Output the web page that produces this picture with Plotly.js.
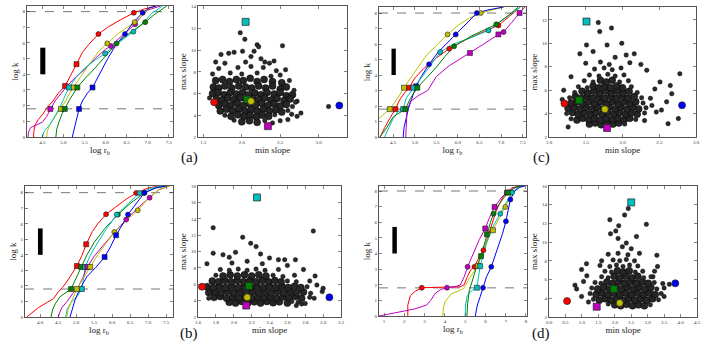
<!DOCTYPE html>
<html>
<head>
<meta charset="utf-8">
<script src="https://cdn.plot.ly/plotly-3.0.1.min.js"></script>
<style>html,body{margin:0;padding:0;background:#fff}#fig{width:715px;height:349px}</style>
</head>
<body>
<div id="fig"></div>
<script>
// cumulative curves: [log r_b, log k] per colour
const curvesA = {
    red: [[4.29,0],[4.3,0.4],[4.33,0.8],[4.4,1.1],[4.52,1.5],[4.62,1.9],[4.75,2.3],[4.88,2.8],[5.04,3.26],[5.15,3.8],[5.31,4.65],[5.45,5.4],[5.6,5.9],[5.83,6.57],[6.05,7.0],[6.3,7.4],[6.67,7.93],[6.9,8.15],[7.2,8.36]],
    magenta: [[4.16,0],[4.17,0.3],[4.22,0.6],[4.35,0.75],[4.5,0.95],[4.6,1.3],[4.69,1.79],[4.8,2.3],[4.95,2.8],[5.1,3.3],[5.3,3.85],[5.5,4.3],[5.75,5.0],[6.0,5.6],[6.13,5.8],[6.4,6.5],[6.7,7.2],[6.85,7.7],[7.0,8.1],[7.3,8.36]],
    yellow: [[4.6,0],[4.62,0.4],[4.68,0.8],[4.78,1.2],[4.88,1.6],[4.94,1.79],[5.05,2.3],[5.15,2.8],[5.23,3.16],[5.4,3.8],[5.6,4.6],[5.85,5.5],[6.04,5.97],[6.3,6.6],[6.69,7.33],[6.9,7.8],[7.05,8.2],[7.2,8.36]],
    cyan: [[4.5,0],[4.55,0.4],[4.68,0.8],[4.8,1.3],[4.9,1.8],[5.0,2.4],[5.13,3.16],[5.3,3.8],[5.5,4.4],[5.75,4.9],[5.99,5.33],[6.2,5.8],[6.4,6.2],[6.66,6.72],[6.9,7.3],[7.1,7.9],[7.35,8.36]],
    green: [[4.82,0],[4.84,0.5],[4.9,1.0],[4.97,1.5],[5.03,1.79],[5.15,2.4],[5.33,3.16],[5.5,3.7],[5.75,4.4],[6.0,5.2],[6.26,5.97],[6.5,6.5],[6.94,7.33],[7.15,7.8],[7.35,8.2],[7.45,8.36]],
    blue: [[5.21,0],[5.25,0.5],[5.31,1.07],[5.37,1.79],[5.45,2.3],[5.57,2.8],[5.69,3.16],[5.85,4.0],[6.05,5.0],[6.25,5.9],[6.46,6.57],[6.65,7.3],[6.88,7.93],[7.05,8.25],[7.2,8.36]]
};
const marksA = {
    red: [[5.04,3.26,'s'],[5.31,4.65,'s'],[5.83,6.57,'o'],[6.67,7.93,'o']],
    magenta: [[4.69,1.79,'s'],[6.13,5.8,'o'],[6.7,7.2,'o']],
    yellow: [[4.94,1.79,'s'],[5.23,3.16,'s'],[6.04,5.97,'o'],[6.69,7.33,'o']],
    cyan: [[5.13,3.16,'s'],[5.99,5.33,'o'],[6.66,6.72,'o']],
    green: [[5.03,1.79,'s'],[5.33,3.16,'s'],[6.26,5.97,'o'],[6.94,7.33,'o']],
    blue: [[5.37,1.79,'s'],[5.69,3.16,'s'],[6.46,6.57,'o'],[6.88,7.93,'o']]
};

const curvesB = {
    red: [[3.63,0],[3.8,0.3],[3.95,0.6],[4.2,0.95],[4.37,1.18],[4.5,1.6],[4.62,1.9],[4.75,2.3],[4.9,2.8],[5.02,3.28],[5.15,3.9],[5.28,4.68],[5.45,5.5],[5.6,6.0],[5.83,6.61],[6.1,7.1],[6.4,7.6],[6.67,7.98],[7.0,8.3],[7.3,8.43]],
    green: [[4.3,0],[4.35,0.5],[4.42,0.85],[4.55,1.3],[4.86,1.8],[5.0,2.5],[5.14,3.22],[5.3,4.0],[5.5,4.8],[5.8,5.7],[6.16,6.59],[6.5,7.3],[6.89,7.98],[7.2,8.3],[7.5,8.43]],
    cyan: [[4.71,0],[4.75,0.5],[4.85,0.9],[5.05,1.4],[5.16,1.8],[5.2,2.5],[5.25,3.22],[5.4,4.0],[5.6,4.8],[5.85,5.7],[6.13,6.59],[6.45,7.3],[6.76,7.98],[7.1,8.3],[7.4,8.43]],
    magenta: [[4.5,0],[4.6,0.6],[4.75,1.0],[4.9,1.5],[5.05,1.9],[5.2,2.6],[5.31,3.22],[5.5,3.9],[5.75,4.6],[6.0,5.3],[6.2,5.8],[6.39,6.27],[6.7,7.0],[7.04,7.68],[7.3,8.2],[7.6,8.43]],
    yellow: [[4.74,0],[4.78,0.5],[4.85,0.9],[4.95,1.4],[5.02,1.8],[5.2,2.5],[5.39,3.22],[5.6,4.0],[5.85,4.8],[6.06,5.47],[6.4,6.2],[6.71,6.87],[7.0,7.6],[7.3,8.2],[7.6,8.43]],
    blue: [[4.83,0],[4.9,0.6],[4.97,1.1],[5.1,1.8],[5.3,2.6],[5.55,3.2],[5.79,3.86],[5.95,4.5],[6.11,5.26],[6.3,6.0],[6.44,6.59],[6.7,7.4],[6.9,8.0],[7.2,8.3],[7.5,8.43]]
};
const marksB = {
    red: [[5.02,3.28,'s'],[5.28,4.68,'s'],[5.83,6.61,'o'],[6.67,7.98,'o']],
    green: [[4.86,1.8,'s'],[5.14,3.22,'s'],[6.16,6.59,'o'],[6.89,7.98,'o']],
    cyan: [[5.16,1.8,'s'],[5.25,3.22,'s'],[6.13,6.59,'o'],[6.76,7.98,'o']],
    magenta: [[5.31,3.22,'s'],[6.39,6.27,'o'],[7.04,7.68,'o']],
    yellow: [[5.02,1.8,'s'],[5.39,3.22,'s'],[6.06,5.47,'o'],[6.71,6.87,'o']],
    blue: [[5.79,3.86,'s'],[6.11,5.26,'s'],[6.44,6.59,'o'],[6.9,8.0,'o']]
};

const curvesC = {
    yellow: [[4.17,1.2],[4.25,1.4],[4.35,1.6],[4.42,1.8],[4.55,2.3],[4.65,2.75],[4.75,3.18],[4.9,3.8],[5.1,4.6],[5.28,5.3],[5.5,5.9],[5.76,6.62],[6.0,7.2],[6.25,7.65],[6.53,8.0],[6.8,8.2],[7.06,8.39]],
    red: [[4.2,0],[4.3,0.6],[4.42,1.2],[4.55,1.8],[4.65,2.4],[4.75,2.8],[4.87,3.18],[5.0,3.8],[5.2,4.4],[5.5,5.1],[5.8,5.7],[6.2,6.3],[6.6,6.8],[6.94,7.2],[7.2,7.8],[7.45,8.39]],
    blue: [[4.73,0],[4.75,0.6],[4.8,1.2],[4.85,1.8],[4.92,2.4],[5.03,3.27],[5.15,3.9],[5.33,4.69],[5.55,5.5],[5.95,6.62],[6.2,7.3],[6.44,8.0],[6.7,8.2],[7.06,8.39]],
    cyan: [[4.3,0],[4.4,0.6],[4.5,1.2],[4.6,1.6],[4.73,1.8],[4.8,2.5],[4.97,3.18],[5.2,4.0],[5.4,4.8],[5.59,5.48],[5.9,6.0],[6.3,6.4],[6.71,6.88],[7.0,7.5],[7.25,8.0],[7.45,8.39]],
    green: [[4.19,0],[4.35,0.6],[4.5,1.3],[4.78,1.8],[4.9,2.5],[5.06,3.18],[5.3,3.9],[5.5,4.5],[5.7,5.2],[5.91,5.85],[6.3,6.5],[6.89,7.27],[7.15,7.8],[7.4,8.39]],
    magenta: [[4.79,0],[4.8,0.8],[4.82,1.7],[4.9,2.3],[5.1,2.7],[5.3,3.0],[5.5,3.9],[5.8,4.6],[6.28,5.42],[6.6,6.0],[6.94,6.62],[7.06,6.77],[7.25,7.4],[7.43,8.0],[7.55,8.39]]
};
const marksC = {
    yellow: [[4.42,1.8,'s'],[4.75,3.18,'s'],[5.76,6.62,'o'],[6.53,8.0,'o']],
    red: [[4.55,1.8,'s'],[4.87,3.18,'s'],[5.8,5.7,'o'],[6.94,7.2,'o']],
    blue: [[5.03,3.27,'s'],[5.33,4.69,'o'],[5.95,6.62,'o'],[6.44,8.0,'o']],
    cyan: [[4.73,1.8,'s'],[4.97,3.18,'s'],[5.59,5.48,'o'],[6.71,6.88,'o']],
    green: [[4.78,1.8,'s'],[5.06,3.18,'s'],[5.91,5.85,'o'],[6.89,7.27,'o']],
    magenta: [[6.28,5.42,'s'],[6.94,6.62,'s'],[7.06,6.77,'o'],[7.43,8.0,'s']]
};

const curvesD = {
    red: [[2.17,0],[2.17,0.7],[2.3,1.3],[2.55,1.6],[2.86,1.81],[3.5,1.83],[4.2,1.85],[4.76,1.87],[4.95,2.0],[5.1,2.5],[5.3,3.0],[5.46,3.15],[5.7,3.8],[5.9,4.21],[6.1,5.0],[6.3,5.8],[6.55,6.8],[6.9,7.7],[7.3,8.2],[7.7,8.32]],
    magenta: [[0.75,0],[1.5,0.2],[2.5,0.45],[3.1,0.7],[3.3,1.0],[3.52,1.45],[3.8,1.7],[4.1,1.81],[4.5,1.88],[4.76,1.98],[4.95,2.5],[5.12,3.15],[5.4,4.0],[5.7,4.9],[5.99,5.6],[6.2,6.3],[6.45,6.98],[6.8,7.6],[7.06,7.9],[7.4,8.2],[7.8,8.32]],
    yellow: [[3.9,0],[3.92,0.5],[4.0,0.9],[4.3,1.4],[4.92,1.74],[5.2,2.4],[5.63,3.21],[5.9,4.3],[6.1,4.9],[6.37,5.49],[6.7,6.3],[6.98,6.98],[7.3,7.8],[7.6,8.2],[7.9,8.32]],
    cyan: [[5.0,0],[5.02,0.7],[5.1,1.3],[5.3,1.6],[5.58,1.81],[5.68,2.6],[5.74,3.19],[5.95,4.2],[6.15,5.0],[6.4,5.8],[6.73,6.55],[7.0,7.2],[7.31,7.9],[7.6,8.25],[7.9,8.32]],
    green: [[5.09,0],[5.12,0.8],[5.2,1.6],[5.35,2.3],[5.55,3.1],[5.78,3.83],[5.95,4.6],[6.07,5.23],[6.25,6.0],[6.4,6.55],[6.7,7.2],[7.1,7.9],[7.5,8.25],[7.8,8.32]],
    blue: [[5.5,0],[5.6,0.7],[5.74,1.23],[5.88,1.81],[6.05,2.5],[6.29,3.15],[6.6,4.3],[6.85,5.3],[7.01,6.06],[7.15,6.9],[7.23,7.45],[7.45,8.0],[7.7,8.25],[7.95,8.32]]
};
const marksD = {
    red: [[2.86,1.81,'o'],[5.46,3.15,'o'],[5.9,4.21,'o']],
    magenta: [[4.1,1.81,'o'],[5.12,3.15,'o'],[5.99,5.6,'s'],[6.45,6.98,'s'],[7.06,7.9,'s']],
    yellow: [[5.63,3.21,'s'],[6.37,5.49,'s'],[6.98,6.98,'o']],
    cyan: [[5.58,1.81,'s'],[5.74,3.19,'s'],[6.73,6.55,'o'],[7.31,7.9,'o']],
    green: [[5.78,3.83,'s'],[6.07,5.23,'s'],[6.4,6.55,'o'],[7.1,7.9,'s']],
    blue: [[5.88,1.81,'o'],[6.29,3.15,'o'],[7.01,6.06,'o'],[7.23,7.45,'o']]
};

// scatter clouds: [min slope, max slope]; dense core and the stray runs around it
const coreA = [
    [1.66,7.2],[1.75,7.3],[1.84,7.1],[1.93,7.3],[2.02,7.2],[2.11,7.4],[2.2,7.1],[2.29,7.3],[2.4,7.1],[2.52,7.0],
    [1.63,6.6],[1.7,6.5],[1.78,6.7],[1.87,6.5],[1.96,6.7],[2.05,6.6],[2.13,6.5],[2.22,6.7],[2.31,6.5],[2.4,6.7],[2.5,6.4],[2.58,6.6],
    [1.62,6.0],[1.69,6.1],[1.77,5.9],[1.85,6.1],[1.93,5.95],[2.01,6.1],[2.09,5.9],[2.17,6.05],[2.25,5.9],[2.33,6.1],[2.42,5.95],[2.5,6.1],[2.58,5.8],[2.66,5.9],
    [1.67,5.5],[1.74,5.4],[1.82,5.6],[1.9,5.45],[1.98,5.6],[2.06,5.4],[2.14,5.55],[2.22,5.45],[2.3,5.6],[2.38,5.4],[2.46,5.55],[2.55,5.35],[2.63,5.5],
    [1.7,4.9],[1.78,5.05],[1.86,4.95],[1.94,5.1],[2.02,4.9],[2.1,5.05],[2.18,4.95],[2.26,5.1],[2.34,4.9],[2.42,5.05],[2.5,4.85],[2.58,5.0],
    [1.72,4.4],[1.8,4.55],[1.88,4.45],[1.96,4.6],[2.04,4.4],[2.12,4.5],[2.2,4.4],[2.28,4.55],[2.36,4.4],[2.44,4.5],[2.52,4.3],
    [1.86,3.9],[1.95,4.05],[2.03,3.9],[2.11,4.0],[2.19,3.85],[2.27,4.0],[2.35,3.9],
    [2.0,3.4],[2.1,3.5],[2.2,3.35]
];
const strayA = [
    [1.98,11.6],[2.04,11.0],[2.2,10.5],[2.22,10.3],[2.53,10.4],[1.73,9.6],[1.83,9.7],[1.9,9.8],[2.01,9.9],[2.12,9.4],[2.16,9.9],[2.25,9.2],
    [1.66,8.9],[1.78,8.8],[2.05,8.9],[2.3,8.9],[2.36,8.8],[2.42,9.0],[2.57,8.2],[1.7,8.3],[1.95,8.4],[2.12,8.5],[2.28,8.4],[2.45,8.1],
    [1.62,7.8],[1.85,7.9],[2.0,7.8],[2.2,7.9],[2.38,7.6],[2.5,7.7],[2.62,7.2],[2.68,6.3],[2.72,5.3],[3.13,4.8],[2.77,4.2],[2.72,3.9],
    [2.6,3.6],[2.5,3.5],[2.65,4.1],[2.7,5.2],[2.66,4.8],[2.6,4.45],[1.78,4.0],[2.43,4.05],[1.9,3.55],[2.3,3.5],[2.4,3.3],[1.58,5.6]
];
const coreB = [
    [1.95,3.8],[2.02,3.7],[2.09,3.9],[2.16,3.75],[2.23,3.85],[2.3,3.7],[2.37,3.9],[2.44,3.75],[2.51,3.85],[2.6,3.7],
    [1.78,4.4],[1.85,4.5],[1.92,4.3],[1.99,4.45],[2.06,4.35],[2.13,4.5],[2.2,4.3],[2.27,4.45],[2.34,4.35],[2.41,4.5],[2.48,4.3],[2.55,4.45],[2.62,4.35],[2.69,4.5],[2.76,4.3],
    [1.72,5.0],[1.79,5.1],[1.86,4.95],[1.93,5.1],[2.0,4.95],[2.07,5.1],[2.14,4.95],[2.21,5.1],[2.28,4.95],[2.35,5.1],[2.42,4.95],[2.49,5.1],[2.56,4.95],[2.63,5.1],[2.7,4.95],[2.78,5.05],
    [1.7,5.7],[1.77,5.6],[1.84,5.75],[1.91,5.6],[1.98,5.75],[2.05,5.6],[2.12,5.75],[2.19,5.6],[2.26,5.75],[2.33,5.6],[2.4,5.75],[2.47,5.6],[2.54,5.75],[2.61,5.6],[2.68,5.75],[2.75,5.6],
    [1.76,6.4],[1.83,6.3],[1.9,6.45],[1.97,6.3],[2.04,6.45],[2.11,6.3],[2.18,6.45],[2.25,6.3],[2.32,6.45],[2.39,6.3],[2.46,6.45],[2.53,6.3],
    [1.88,7.0],[1.96,7.15],[2.04,7.0],[2.12,7.15],[2.2,7.0],[2.28,7.15],[2.36,7.0]
];
const strayB = [
    [1.77,9.8],[1.88,9.6],[1.95,9.3],[2.02,9.9],[2.1,11.75],[2.19,11.0],[2.25,10.6],[2.3,9.7],[2.4,9.2],[2.5,9.0],[2.57,9.0],[2.69,9.0],
    [1.77,12.9],[2.89,12.5],[2.91,7.0],[2.93,5.9],[2.99,5.1],[3.0,5.5],[2.7,3.4],[2.76,3.6],[1.7,8.5],[2.6,8.3],[2.78,7.8],[2.85,6.4],
    [1.72,4.3],[2.65,3.9],[2.9,4.3],[1.98,8.6],[2.15,8.8],[2.32,8.5],[1.8,7.1],[2.44,7.1],[2.55,6.95],[2.68,7.1],[1.85,7.8],[1.95,7.7],
    [2.05,7.85],[2.15,7.7],[2.25,7.85],[2.35,7.7],[2.5,7.8],[2.8,3.65],[2.72,3.8],[2.85,4.4],[2.86,4.9],[2.82,5.7],[2.6,6.4],[2.7,6.3]
];
const coreC = [
    [1.55,3.1],[1.63,3.2],[1.71,3.05],[1.79,3.2],[1.87,3.1],[1.95,3.2],
    [1.38,3.45],[1.46,3.6],[1.54,3.5],[1.62,3.6],[1.7,3.45],[1.78,3.6],[1.86,3.5],[1.94,3.6],[2.02,3.45],[2.1,3.6],
    [1.32,4.1],[1.4,3.95],[1.48,4.1],[1.56,3.95],[1.64,4.1],[1.72,3.95],[1.8,4.1],[1.88,3.95],[1.96,4.1],[2.04,3.95],[2.12,4.1],[2.2,3.95],
    [1.26,4.45],[1.34,4.55],[1.42,4.4],[1.5,4.55],[1.58,4.4],[1.66,4.55],[1.74,4.4],[1.82,4.55],[1.9,4.4],[1.98,4.55],[2.06,4.4],[2.14,4.55],[2.22,4.4],
    [1.3,4.9],[1.38,5.0],[1.46,4.85],[1.54,5.0],[1.62,4.85],[1.7,5.0],[1.78,4.85],[1.86,5.0],[1.94,4.85],[2.02,5.0],[2.1,4.85],[2.18,5.0],
    [1.36,5.45],[1.44,5.3],[1.52,5.45],[1.6,5.3],[1.68,5.45],[1.76,5.3],[1.84,5.45],[1.92,5.3],[2.0,5.45],[2.08,5.3],[2.16,5.45],
    [1.45,5.9],[1.53,5.75],[1.61,5.9],[1.69,5.75],[1.77,5.9],[1.85,5.75],[1.93,5.9],[2.01,5.75],[2.09,5.9],
    [1.6,6.35],[1.68,6.2],[1.76,6.35],[1.84,6.2],[1.92,6.35],[2.0,6.2],
    [1.7,6.85],[1.78,6.7],[1.86,6.85]
];
const strayC = [
    [1.67,11.77],[1.69,11.0],[1.85,11.3],[1.79,9.86],[1.99,10.0],[1.51,9.86],[1.42,9.1],[2.05,9.0],[2.16,9.1],[2.33,7.7],[2.51,6.7],[2.65,6.4],
    [2.67,5.7],[2.78,7.4],[2.44,6.1],[2.76,3.57],[2.62,3.14],[2.46,4.14],[2.53,4.3],[2.6,5.0],[1.26,2.86],[1.3,7.14],[1.2,6.0],[1.18,5.2],
    [2.38,5.3],[2.4,4.7],[2.3,3.4],[1.6,9.3],[1.9,8.8],[2.25,8.2],[1.48,6.8],[1.6,6.7],[1.96,6.7],[2.08,6.8],[1.55,7.3],[1.68,7.2],
    [1.8,7.35],[1.9,7.2],[2.02,7.3],[1.62,7.8],[1.75,7.9],[1.86,7.75],[1.98,7.9],[1.5,8.3],[1.7,8.4],[1.82,8.2],[2.1,8.35],[1.4,6.3],
    [1.52,6.2],[2.12,6.3],[1.35,5.8],[2.2,5.8],[1.28,5.35],[2.26,5.35],[2.28,4.9],[2.32,4.5],[1.24,4.0],[2.3,4.05],[1.3,3.55],[2.18,3.5],[2.03,3.1]
];
const coreD = [
    [2.0,3.3],[2.18,3.2],[2.36,3.35],[2.54,3.2],[2.72,3.3],[2.9,3.2],
    [1.53,3.8],[1.71,3.95],[1.89,3.8],[2.07,3.95],[2.25,3.8],[2.43,3.95],[2.61,3.8],[2.79,3.95],[2.97,3.8],[3.15,3.95],
    [1.43,4.4],[1.61,4.55],[1.79,4.4],[1.97,4.55],[2.15,4.4],[2.33,4.55],[2.51,4.4],[2.69,4.55],[2.87,4.4],[3.05,4.55],[3.23,4.4],
    [1.48,5.0],[1.66,5.15],[1.84,5.0],[2.02,5.15],[2.2,5.0],[2.38,5.15],[2.56,5.0],[2.74,5.15],[2.92,5.0],[3.1,5.15],
    [1.76,5.75],[1.94,5.6],[2.12,5.75],[2.3,5.6],[2.48,5.75],[2.66,5.6],[2.84,5.75],[3.02,5.6],
    [1.98,6.35],[2.16,6.2],[2.34,6.35],[2.52,6.2],[2.7,6.35],
    [2.08,6.95],[2.26,6.8],[2.44,6.95]
];
const strayD = [
    [2.41,13.6],[2.3,12.9],[1.85,12.4],[2.96,11.9],[2.12,11.75],[1.87,10.9],[2.03,11.2],[2.66,10.6],[2.1,10.4],[2.35,9.9],[2.23,9.5],[3.28,8.6],
    [0.99,7.07],[0.79,5.4],[0.84,5.0],[0.99,4.2],[1.14,7.7],[3.46,5.57],[3.66,5.5],[3.16,6.3],[3.21,6.9],[1.05,5.8],[1.15,6.4],[1.2,3.6],
    [3.5,4.2],[3.3,7.4],[2.5,9.3],[1.6,8.0],[1.35,3.9],[3.33,3.85],[1.25,4.5],[3.41,4.5],[1.3,5.1],[3.28,5.0],[3.5,5.1],[1.4,5.7],
    [1.58,5.6],[3.2,5.7],[1.6,6.3],[1.8,6.2],[2.88,6.2],[3.1,6.3],[1.7,6.9],[1.9,6.8],[2.62,6.8],[2.85,6.9],[1.55,7.5],[1.85,7.4],
    [2.05,7.55],[2.25,7.4],[2.45,7.55],[2.7,7.45],[1.95,8.1],[2.15,8.0],[2.35,8.15],[2.6,8.0],[1.8,8.7],[2.1,8.8],[2.4,8.65],[2.75,8.8],
    [3.08,3.3],[1.8,3.4]
];

// highlighted runs in the scatter panels
const highlightsA = {red: [1.64,5.2], cyan: [2.05,12.6], green: [2.07,5.45], yellow: [2.12,5.3], magenta: [2.34,3.0], blue: [3.27,4.9]};
const highlightsB = {red: [1.645,5.7], cyan: [2.26,16.6], green: [2.17,5.8], yellow: [2.15,4.4], magenta: [2.14,3.4], blue: [3.07,4.4]};
const highlightsC = {red: [1.21,4.86], cyan: [1.51,11.86], green: [1.41,5.14], yellow: [1.76,4.37], magenta: [1.79,2.77], blue: [2.81,4.71]};
const highlightsD = {red: [0.55,3.7], cyan: [2.5,14.25], green: [1.97,5.0], yellow: [2.15,3.5], magenta: [1.45,3.1], blue: [3.84,5.6]};

const kLevels = [1.8, 8.0];

const colours = {red: '#ff0000', blue: '#0000ff', green: '#008000', cyan: '#00bfbf', magenta: '#bf00bf', yellow: '#bfbf00'};
const hlSymbol = {red: 'circle', cyan: 'square', green: 'square', yellow: 'circle', magenta: 'square', blue: 'circle'};
const serif = 'Liberation Serif, DejaVu Serif, serif';

const data = [];
const shapes = [];

function addLinePanel(n, curves, marks, bar) {
    const xa = 'x' + (n === 1 ? '' : n), ya = 'y' + (n === 1 ? '' : n);
    kLevels.forEach(k => shapes.push({type: 'line', xref: xa + ' domain', yref: ya, x0: 0, x1: 1, y0: k, y1: k,
        line: {color: '#777', width: 1, dash: 'dash'}, layer: 'below'}));
    shapes.push({type: 'rect', xref: xa, yref: ya, x0: bar[0], x1: bar[1], y0: 4.0, y1: 5.7,
        fillcolor: '#000', line: {width: 0}});
    Object.keys(curves).forEach(c => {
        data.push({x: curves[c].map(p => p[0]), y: curves[c].map(p => p[1]), xaxis: xa, yaxis: ya,
            mode: 'lines', line: {color: colours[c], width: 1}, hoverinfo: 'skip'});
    });
    Object.keys(marks).forEach(c => {
        data.push({x: marks[c].map(p => p[0]), y: marks[c].map(p => p[1]), xaxis: xa, yaxis: ya, mode: 'markers',
            marker: {color: colours[c], size: 5, symbol: marks[c].map(p => p[2] === 's' ? 'square' : 'circle'),
                line: {color: '#222', width: 0.6}}});
    });
}

function addScatterPanel(n, core, stray, hl) {
    const xa = 'x' + n, ya = 'y' + n;
    data.push({x: core.map(p => p[0]), y: core.map(p => p[1]), xaxis: xa, yaxis: ya, mode: 'markers',
        marker: {color: '#262626', size: 7, line: {color: '#000', width: 0.5}}});
    data.push({x: stray.map(p => p[0]), y: stray.map(p => p[1]), xaxis: xa, yaxis: ya, mode: 'markers',
        marker: {color: '#2a2a2a', size: 4.5, line: {color: '#000', width: 0.4}}});
    Object.keys(hl).forEach(c => {
        data.push({x: [hl[c][0]], y: [hl[c][1]], xaxis: xa, yaxis: ya, mode: 'markers',
            marker: {color: colours[c], size: 7, symbol: hlSymbol[c], line: {color: '#222', width: 0.7}}});
    });
}

addLinePanel(1, curvesA, marksA, [4.45, 4.57]);
addScatterPanel(2, coreA, strayA, highlightsA);
addLinePanel(3, curvesC, marksC, [4.46, 4.56]);
addScatterPanel(4, coreC, strayC, highlightsC);
addLinePanel(5, curvesB, marksB, [3.94, 4.07]);
addScatterPanel(6, coreB, strayB, highlightsB);
addLinePanel(7, curvesD, marksD, [1.41, 1.63]);
addScatterPanel(8, coreD, strayD, highlightsD);

function axis(domain, range, dtick, fmt, title, anchor) {
    return {
        domain: domain, range: range, dtick: dtick, tick0: 0, tickformat: fmt, anchor: anchor,
        ticks: 'inside', ticklen: 3, tickwidth: 0.6, tickcolor: '#333', mirror: 'allticks',
        showline: true, linecolor: '#555', linewidth: 1, showgrid: false, zeroline: false,
        tickfont: {family: serif, size: 5, color: '#333'},
        title: {text: title, font: {family: serif, size: 9, color: '#222'}, standoff: 2}
    };
}

const W = 715, H = 349;
const px = (a, b) => [a / W, b / W];
const py = (top, bot) => [1 - bot / H, 1 - top / H];
const rb = 'log r<sub>b</sub>', lk = 'log k';

const layout = {
    width: W, height: H, margin: {l: 0, r: 0, t: 0, b: 0}, showlegend: false,
    paper_bgcolor: '#fff', plot_bgcolor: '#fff',
    xaxis:  axis(px(27, 173), [4.135, 7.6], 0.5, '.1f', rb, 'y'),
    yaxis:  axis(py(6, 137), [0, 8.36], 1, 'd', lk, 'x'),
    xaxis2: axis(px(198, 347), [1.43, 3.37], 0.5, '.1f', 'min slope', 'y2'),
    yaxis2: axis(py(6, 137), [2, 14.06], 2, 'd', 'max slope', 'x2'),
    xaxis3: axis(px(379, 526), [4.17, 7.58], 0.5, '.1f', rb, 'y3'),
    yaxis3: axis(py(7, 137), [0, 8.39], 1, 'd', lk, 'x3'),
    xaxis4: axis(px(549, 696), [1.0, 3.0], 0.5, '.1f', 'min slope', 'y4'),
    yaxis4: axis(py(7, 137), [2, 13.1], 2, 'd', 'max slope', 'x4'),
    xaxis5: axis(px(25, 173), [3.58, 7.69], 0.5, '.1f', rb, 'y5'),
    yaxis5: axis(py(186, 317), [0, 8.43], 1, 'd', lk, 'x5'),
    xaxis6: axis(px(198, 341), [1.6, 3.2], 0.2, '.1f', 'min slope', 'y6'),
    yaxis6: axis(py(186, 317), [2, 18], 2, 'd', 'max slope', 'x6'),
    xaxis7: axis(px(379, 527), [0.75, 8.05], 1, 'd', rb, 'y7'),
    yaxis7: axis(py(186, 316), [0, 8.32], 1, 'd', lk, 'x7'),
    xaxis8: axis(px(549, 697), [0, 4.5], 0.5, '.1f', 'min slope', 'y8'),
    yaxis8: axis(py(186, 317), [2, 16], 2, 'd', 'max slope', 'x8'),
    shapes: shapes,
    annotations: [['(a)', 189, 157], ['(b)', 189, 333], ['(c)', 541, 157], ['(d)', 541, 333]].map(a => ({
        text: a[0], xref: 'paper', yref: 'paper', x: a[1] / W, y: 1 - a[2] / H, showarrow: false,
        xanchor: 'center', yanchor: 'middle', font: {family: serif, size: 15, color: '#111'}
    }))
};

Plotly.newPlot('fig', data, layout, {staticPlot: true});
</script>
</body>
</html>
